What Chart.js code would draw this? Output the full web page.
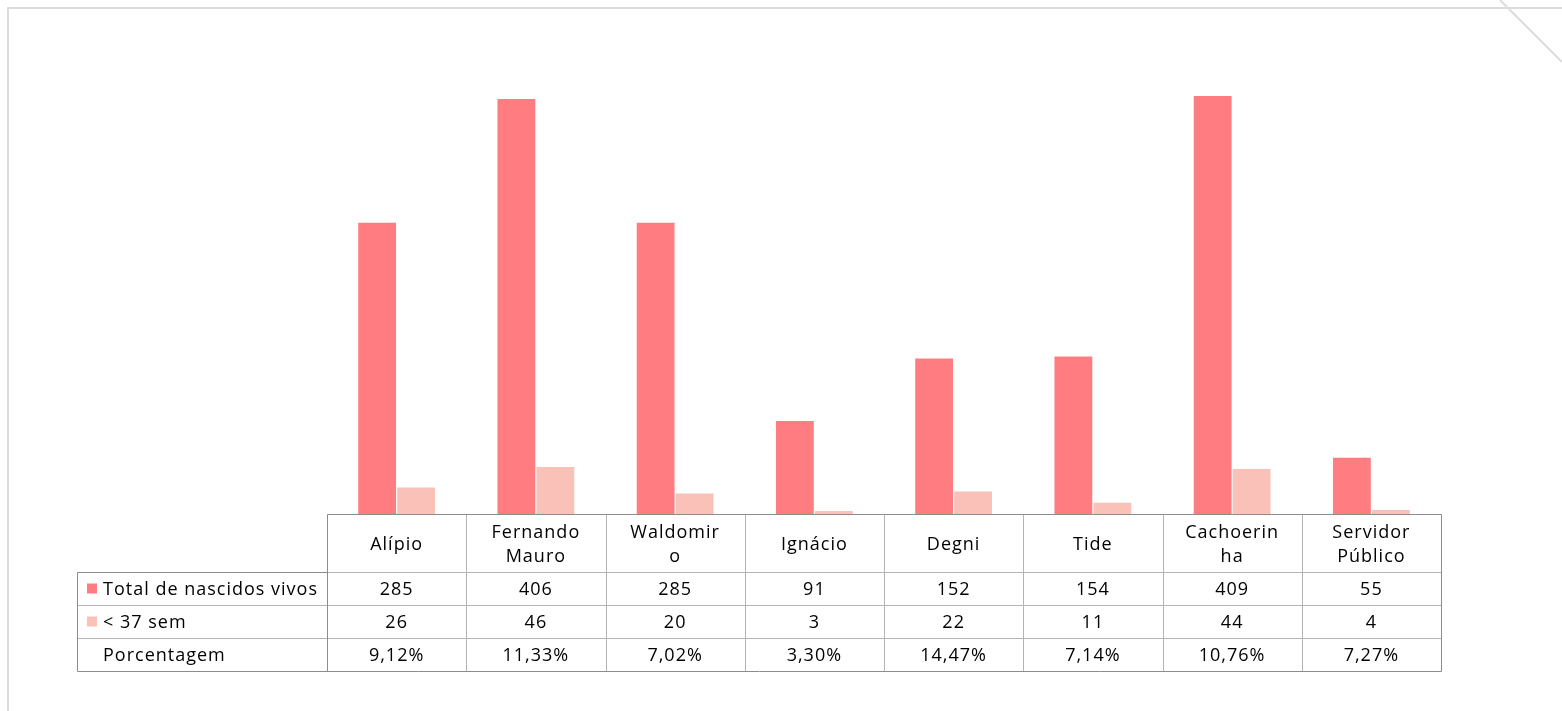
<!DOCTYPE html>
<html>
<head>
<meta charset="utf-8">
<script src="https://cdn.jsdelivr.net/npm/chart.js@4"></script>
<style>
  html, body { margin: 0; padding: 0; background: #fff; }
  #wrap { width: 1562px; height: 711px; position: relative; }
</style>
</head>
<body>
<div id="wrap"><canvas id="chart" width="1562" height="711"></canvas></div>
<script>
// Categories (header text already split where the original wraps)
const categories = [
  ['Alípio'], ['Fernando', 'Mauro'], ['Waldomir', 'o'], ['Ignácio'],
  ['Degni'], ['Tide'], ['Cachoerin', 'ha'], ['Servidor', 'Público']
];
const seriesNames = ['Total de nascidos vivos', '< 37 sem', 'Porcentagem'];
const totalNascidos = [285, 406, 285, 91, 152, 154, 409, 55];
const menos37 = [26, 46, 20, 3, 22, 11, 44, 4];
const porcentagem = ['9,12%', '11,33%', '7,02%', '3,30%', '14,47%', '7,14%', '10,76%', '7,27%'];

const colors = ['#FF7C80', '#F9C1B7'];
const FONT = '18px "Open Sans", "Noto Sans", sans-serif';

// draws the slide frame and the data table under the bars
const tablePlugin = {
  id: 'dataTable',
  afterDraw(chart) {
    const ctx = chart.ctx;
    const area = chart.chartArea;
    const x = chart.scales.x;
    const colW = (area.right - area.left) / categories.length;
    const top = area.bottom;
    const headH = 58, rowH = 33;
    const tableLeft = 77;
    const rows = [totalNascidos, menos37, porcentagem];

    ctx.save();
    // frame
    ctx.strokeStyle = '#dcdcdc';
    ctx.lineWidth = 2;
    ctx.beginPath();
    ctx.moveTo(8, 711); ctx.lineTo(8, 8); ctx.lineTo(1562, 8);
    ctx.moveTo(1500, 0); ctx.lineTo(1562, 62);
    ctx.stroke();

    // inner grid lines
    ctx.strokeStyle = '#b4b4b4';
    ctx.lineWidth = 1;
    ctx.beginPath();
    for (let r = 0; r <= 2; r++) {
      const y = Math.round(top + headH + r * rowH) + 0.5;
      ctx.moveTo(tableLeft, y);
      ctx.lineTo(area.right, y);
    }
    for (let i = 1; i < categories.length; i++) {
      const xx = Math.round(area.left + i * colW) + 0.5;
      ctx.moveTo(xx, top); ctx.lineTo(xx, top + headH + 3 * rowH);
    }
    ctx.stroke();

    // outer borders
    ctx.strokeStyle = '#8c8c8c';
    ctx.beginPath();
    const bottom = Math.round(top + headH + 3 * rowH) + 0.5;
    const yTop = Math.round(top) + 0.5;
    const yRow = Math.round(top + headH) + 0.5;
    const l = Math.round(area.left) + 0.5, r = Math.round(area.right) + 0.5;
    ctx.moveTo(l, yTop); ctx.lineTo(r, yTop); ctx.lineTo(r, bottom);
    ctx.lineTo(tableLeft + 0.5, bottom); ctx.lineTo(tableLeft + 0.5, yRow); ctx.lineTo(l, yRow);
    ctx.moveTo(l, yTop); ctx.lineTo(l, bottom);
    ctx.stroke();

    ctx.font = FONT;
    ctx.letterSpacing = '1px';
    ctx.fillStyle = '#000';
    ctx.textBaseline = 'middle';

    // header row
    ctx.textAlign = 'center';
    categories.forEach((lines, i) => {
      const cx = x.getPixelForValue(i);
      if (lines.length === 1) {
        ctx.fillText(lines[0], cx, top + headH / 2 + 2);
      } else {
        ctx.fillText(lines[0], cx, top + 19);
        ctx.fillText(lines[1], cx, top + 43);
      }
    });

    // data rows
    rows.forEach((vals, r) => {
      const cy = top + headH + r * rowH + rowH / 2 + 1;
      vals.forEach((v, i) => ctx.fillText(String(v), x.getPixelForValue(i), cy));
      ctx.textAlign = 'left';
      if (r < 2) {
        ctx.fillStyle = colors[r];
        ctx.fillRect(87, cy - 6, 10, 10);
        ctx.fillStyle = '#000';
      }
      ctx.fillText(seriesNames[r], 103, cy);
      ctx.textAlign = 'center';
    });
    ctx.restore();
  }
};

new Chart(document.getElementById('chart'), {
  type: 'bar',
  data: {
    labels: categories.map(c => c.join(' ')),
    datasets: [
      { label: seriesNames[0], data: totalNascidos, backgroundColor: colors[0],
        categoryPercentage: 0.56, barPercentage: 0.97 },
      { label: seriesNames[1], data: menos37, backgroundColor: colors[1],
        categoryPercentage: 0.56, barPercentage: 0.97 }
    ]
  },
  options: {
    responsive: false,
    animation: false,
    layout: { padding: { left: 327, right: 121, top: 54, bottom: 197 } },
    plugins: { legend: { display: false }, tooltip: { enabled: false } },
    scales: {
      x: { display: false },
      y: { display: false, min: 0, max: 450 }
    }
  },
  plugins: [tablePlugin]
});
</script>
</body>
</html>
